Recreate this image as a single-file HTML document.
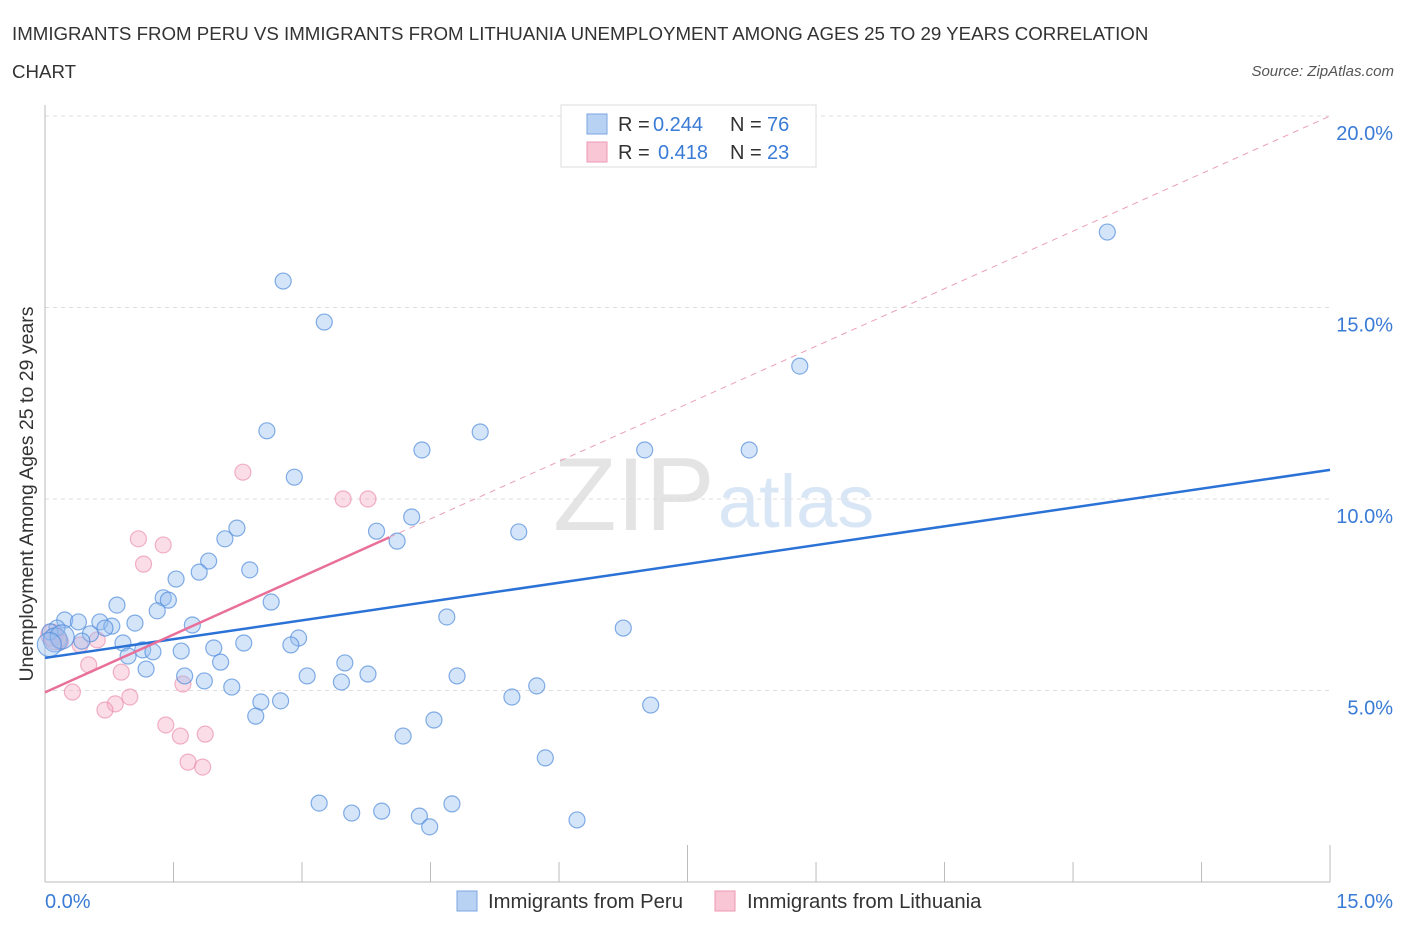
<!DOCTYPE html>
<html><head><meta charset="utf-8"><style>
body{margin:0;background:#fff;font-family:"Liberation Sans",sans-serif;}
svg text{font-family:"Liberation Sans",sans-serif;}
</style></head><body>
<svg id="c" width="1406" height="930" xmlns="http://www.w3.org/2000/svg">
<text x="12" y="40" font-size="18.7" fill="#333">IMMIGRANTS FROM PERU VS IMMIGRANTS FROM LITHUANIA UNEMPLOYMENT AMONG AGES 25 TO 29 YEARS CORRELATION</text>
<text x="12" y="78" font-size="18.7" fill="#333">CHART</text>
<text x="1394" y="76" font-size="15" fill="#555" text-anchor="end" font-style="italic">Source: ZipAtlas.com</text>
<text x="553" y="530" font-size="104" fill="#e4e4e4" font-family="Liberation Serif">ZIP</text>
<text x="718" y="527" font-size="74" fill="#d8e6f6">atlas</text>
<text transform="translate(33,494) rotate(-90)" font-size="19.5" fill="#333" text-anchor="middle">Unemployment Among Ages 25 to 29 years</text>
<g id="grid"></g><g id="marks"></g>
<g>
<rect x="561" y="105" width="255" height="62" fill="#fff" stroke="#ddd"/>
<rect x="587" y="114" width="20" height="20" fill="#b8d2f4" stroke="#7aa6e0"/>
<text y="131" font-size="20" fill="#333"><tspan x="618">R =</tspan><tspan x="653" fill="#3a7bd5">0.244</tspan><tspan x="730">N =</tspan><tspan x="767" fill="#3a7bd5">76</tspan></text>
<rect x="587" y="142" width="20" height="20" fill="#f8c6d4" stroke="#ee9ab4"/>
<text y="159" font-size="20" fill="#333"><tspan x="618">R =</tspan><tspan x="658" fill="#3a7bd5">0.418</tspan><tspan x="730">N =</tspan><tspan x="767" fill="#3a7bd5">23</tspan></text>
</g>
<g>
<rect x="457" y="891" width="20" height="20" fill="#b8d2f4" stroke="#7aa6e0"/>
<text x="488" y="908" font-size="20.3" fill="#333">Immigrants from Peru</text>
<rect x="715" y="891" width="20" height="20" fill="#f8c6d4" stroke="#ee9ab4"/>
<text x="747" y="908" font-size="20.3" fill="#333">Immigrants from Lithuania</text>
</g>
</svg>
<script>
const xTickLabels=["0.0%","15.0%"];
const yTicks=[5,10,15,20];
const peruX=[12.40,8.81,2.78,3.26,2.59,5.08,4.40,7.00,8.22,2.91,4.28,3.87,5.53,4.11,2.24,2.10,1.91,2.39,1.80,1.53,1.38,1.44,1.31,0.84,2.64,4.69,6.75,1.05,1.72,0.23,0.39,0.64,0.78,0.70,0.14,0.06,0.53,0.43,0.91,2.32,2.96,2.87,1.14,1.26,0.97,1.59,1.97,2.05,1.18,3.50,3.06,3.77,3.46,4.81,1.63,1.86,2.18,5.74,5.45,2.52,2.75,7.07,2.46,4.54,4.18,5.84,3.20,4.75,3.58,3.93,4.37,4.49,6.21,0.12,0.20,0.05];
const peruY=[16.97,13.47,15.69,14.62,11.78,11.75,11.28,11.28,11.28,10.57,9.53,9.16,9.14,8.90,9.24,8.96,8.38,8.15,8.09,7.91,7.42,7.36,7.08,7.23,7.31,6.92,6.63,6.76,6.71,6.84,6.79,6.79,6.68,6.63,6.63,6.53,6.48,6.29,6.24,6.24,6.37,6.19,6.06,6.01,5.90,6.03,6.11,5.74,5.56,5.72,5.38,5.43,5.22,5.38,5.38,5.25,5.09,5.12,4.83,4.70,4.73,4.62,4.33,4.23,3.81,3.24,2.06,2.04,1.80,1.85,1.72,1.44,1.62,6.32,6.40,6.20];
const lithX=[2.31,3.48,3.77,1.09,1.38,1.15,0.08,0.18,0.61,0.41,0.51,0.89,1.61,0.32,0.99,0.82,0.70,1.41,1.58,1.87,1.67,1.84,0.12];
const lithY=[10.70,10.00,10.00,8.96,8.80,8.30,6.45,6.27,6.32,6.19,5.67,5.48,5.17,4.96,4.83,4.65,4.49,4.10,3.81,3.86,3.13,3.00,6.35];
const peruLine=[[0,5.85],[15,10.76]];
const lithLine=[[0,4.95],[4.02,9.0]];
const lithDash=[[4.02,9.0],[15,20.0]];
const X=v=>45+v*85.67, Y=v=>882-v*38.3;
const NS="http://www.w3.org/2000/svg";
function mk(t,a,p){const e=document.createElementNS(NS,t);for(const k in a)e.setAttribute(k,a[k]);p.appendChild(e);return e;}
const g=document.getElementById('grid'), m=document.getElementById('marks');
yTicks.forEach(v=>{
 const l=mk('line',{x1:45,x2:1330,y1:Y(v),y2:Y(v),stroke:'#ddd','stroke-dasharray':'4,4'},g);
 
 
 const t=mk('text',{x:1393,y:Y(v)+24,'font-size':20,fill:'#3a7bd5','text-anchor':'end'},g);
 t.textContent=v.toFixed(1)+'%';
 
 
});
const ax=mk('line',{x1:45,x2:45,y1:105,y2:882,stroke:'#bbb'},g);


const bx=mk('line',{x1:45,x2:1330,y1:882,y2:882,stroke:'#bbb'},g);


for(let i=0;i<=10;i++){const v=i*1.5;const tk=mk('line',{x1:X(v),x2:X(v),y1:882,y2:i==5||i==10?845:862,stroke:'#bbb'},g);
 
 }
[[0,45,'start'],[15,1393,'end']].forEach((a,i)=>{const t=mk('text',{x:a[1],y:908,'font-size':20,fill:'#3a7bd5','text-anchor':a[2]},g);t.textContent=xTickLabels[i];
 
 });
lithX.forEach((x,i)=>{const c=mk('circle',{cx:X(x),cy:Y(lithY[i]),r:i==6||i==22?11:8,fill:'rgba(244,170,195,0.4)',stroke:'rgba(232,130,165,0.6)','stroke-width':1.2},m);
 
 });
peruX.forEach((x,i)=>{const c=mk('circle',{cx:X(x),cy:Y(peruY[i]),r:i>=73?12:8,fill:'rgba(150,190,240,0.4)',stroke:'rgba(80,140,220,0.7)','stroke-width':1.2},m);
 
 });
function ln(p,st,w,d,n){const l=mk('line',{x1:X(p[0][0]),y1:Y(p[0][1]),x2:X(p[1][0]),y2:Y(p[1][1]),stroke:st,'stroke-width':w},m);if(d)l.setAttribute('stroke-dasharray',d);
 
 }
ln(lithDash,'#eaa0b8',1,'6,5','lithuania-trend-extension');
ln(peruLine,'#2a72d6',2.5,null,'peru-trend-line');
ln(lithLine,'#e8709a',2.5,null,'lithuania-trend-line');
</script>
</body></html>
